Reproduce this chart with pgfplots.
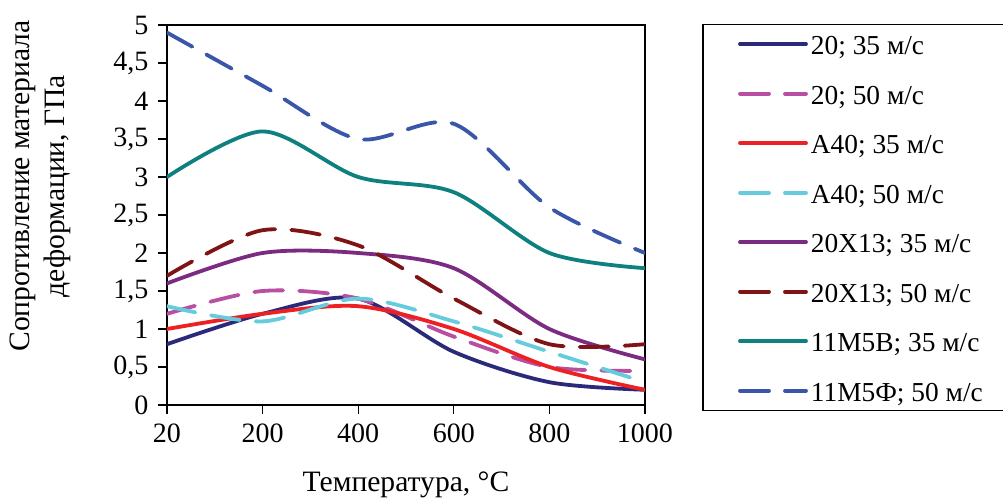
\documentclass[border=0pt]{standalone}
\usepackage{fontspec}
\setmainfont{Liberation Serif}
\usepackage{pgfplots}
\pgfplotsset{compat=1.18}
\definecolor{c1}{RGB}{43,42,122}
\definecolor{c2}{RGB}{184,79,160}
\definecolor{c3}{RGB}{237,32,36}
\definecolor{c4}{RGB}{102,204,221}
\definecolor{c5}{RGB}{123,43,130}
\definecolor{c6}{RGB}{127,20,22}
\definecolor{c7}{RGB}{15,128,128}
\definecolor{c8}{RGB}{58,86,168}
\newcommand\cf{\fontsize{14}{16.8}\selectfont}
\newcommand\lf{\fontsize{13.7}{16.4}\selectfont}
\newcommand\af{\fontsize{14.8}{17.5}\selectfont}
\begin{document}
\cf
\begin{tikzpicture}
\useasboundingbox (-83.5pt,-48pt) rectangle (418pt,202.5pt);
\begin{axis}[
  at={(0,0)}, anchor=south west,
  scale only axis, width=239pt, height=190pt,
  xmin=0, xmax=5, ymin=0, ymax=5,
  xtick={0,1,2,3,4,5}, xticklabels={20,200,400,600,800,1000},
  ytick={0,0.5,1,1.5,2,2.5,3,3.5,4,4.5,5},
  /pgf/number format/assume math mode=true,
  yticklabel style={/pgf/number format/.cd, use comma, fixed, precision=1},
  tick label style={font=\cf},
  tick align=outside, xtick pos=left, ytick pos=left,
  major tick length=4.5pt,
  tick style={black, line width=0.6pt},
  axis line style={line width=1.2pt},
  every axis x label/.style={at={(axis description cs:0.5,0)}, anchor=base, yshift=-43.5pt, font=\af},
  xlabel={Температура, °C},
  every axis y label/.style={at={(axis description cs:-0.264,0.576)}, rotate=90, anchor=center, align=center, font=\af},
  ylabel={Сопротивление материала\\деформации, ГПа},
  legend cell align=left,
  legend style={at={(axis description cs:1.1203,1.0026)}, anchor=north west, draw=black, line width=0.6pt,
    font=\lf, inner xsep=17.5pt, inner ysep=2pt, row sep=9.25pt,
    nodes={text height=11pt, text depth=0.5pt, inner xsep=1.5pt}},
  legend image code/.code={\draw[#1] (0pt,0pt) -- (33pt,0pt);},
  every axis plot/.append style={line width=1.9pt, smooth, line cap=round},
  dsh/.style={dash pattern=on 14.5pt off 8pt},
]
\addplot[c1] coordinates {(0,0.8) (1,1.2) (2,1.4) (3,0.7) (4,0.3) (5,0.2)};
\addlegendentry{\makebox[110pt][l]{20; 35 м/с}}
\addplot[c2,dsh] coordinates {(0,1.2) (1,1.5) (2,1.4) (3,0.9) (4,0.5) (5,0.45)};
\addlegendentry{20; 50 м/с}
\addplot[c3] coordinates {(0,1.0) (1,1.2) (2,1.3) (3,1.0) (4,0.5) (5,0.2)};
\addlegendentry{А40; 35 м/с}
\addplot[c4,dsh] coordinates {(0,1.3) (1,1.1) (2,1.4) (3,1.1) (4,0.7) (5,0.3)};
\addlegendentry{А40; 50 м/с}
\addplot[c5] coordinates {(0,1.6) (1,2.0) (2,2.0) (3,1.8) (4,1.0) (5,0.6)};
\addlegendentry{20Х13; 35 м/с}
\addplot[c6,dsh] coordinates {(0,1.7) (1,2.3) (2,2.1) (3,1.4) (4,0.8) (5,0.8)};
\addlegendentry{20Х13; 50 м/с}
\addplot[c7] coordinates {(0,3.0) (1,3.6) (2,3.0) (3,2.8) (4,2.0) (5,1.8)};
\addlegendentry{11М5В; 35 м/с}
\addplot[c8,dsh] coordinates {(0,4.9) (1,4.2) (2,3.5) (3,3.7) (4,2.6) (5,2.0)};
\addlegendentry{11М5Ф; 50 м/с}
\end{axis}
\end{tikzpicture}
\end{document}
